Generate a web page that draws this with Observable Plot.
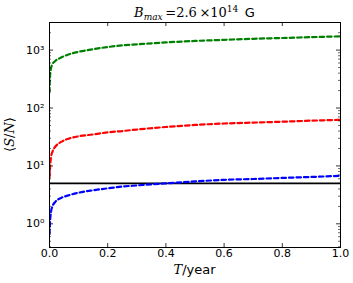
<!DOCTYPE html>
<html><head><meta charset="utf-8">
<script src="https://cdn.jsdelivr.net/npm/d3@7"></script>
<script src="https://cdn.jsdelivr.net/npm/@observablehq/plot@0.6"></script>
<style>body{margin:0;background:#fff}</style>
</head><body><div id="chart"></div>
<script>
// Observation time T (years)
const T = [0, 0.002, 0.005, 0.01, 0.02, 0.04, 0.065, 0.1, 0.15, 0.2, 0.25, 0.3, 0.4, 0.5, 0.6, 0.7, 0.8, 0.9, 1.0];
// <S/N> curves
const snrGreen = [185, 360, 480, 570, 650, 745, 840, 935, 1040, 1130, 1210, 1260, 1360, 1440, 1505, 1570, 1620, 1675, 1730];
const snrRed   = [6.3, 9.4, 14, 17.5, 21.5, 26, 29.5, 32.5, 35, 38, 40, 42.5, 47, 51, 54, 56, 58, 60.5, 62.5];
const snrBlue  = [0.66, 1.1, 1.6, 2.0, 2.4, 2.8, 3.1, 3.45, 3.8, 4.1, 4.4, 4.6, 5.0, 5.4, 5.75, 5.95, 6.2, 6.45, 6.75];
const threshold = 5;

const xTicks = [0, 0.2, 0.4, 0.6, 0.8, 1.0];
const xTickLabels = ["0.0", "0.2", "0.4", "0.6", "0.8", "1.0"];
const yTicks = [1, 10, 100, 1000];
const yTickLabels = ["10\u2070", "10\u00b9", "10\u00b2", "10\u00b3"];
const yMinor = [0.4, 0.5, 0.6, 0.7, 0.8, 0.9, 2, 3, 4, 5, 6, 7, 8, 9, 20, 30, 40, 50, 60, 70, 80, 90, 200, 300, 400, 500, 600, 700, 800, 900, 2000, 3000];

const rows = (ys) => T.map((t, i) => ({T: t, snr: ys[i]}));

const W = 353, H = 283, mL = 49, mR = 13, mT = 22, mB = 36;
const fw = W - mL - mR, fh = H - mT - mB;
const dash = "4.5,3";

const chart = Plot.plot({
  width: W, height: H,
  marginLeft: mL, marginRight: mR, marginTop: mT, marginBottom: mB,
  style: {fontFamily: "DejaVu Sans", fontSize: "11px", background: "white", color: "black", overflow: "visible"},
  x: {domain: [0, 1]},
  y: {type: "log", domain: [0.39, 3000]},
  marks: [
    Plot.ruleY([threshold], {stroke: "black", strokeWidth: 1.6}),
    Plot.line(rows(snrBlue), {x: "T", y: "snr", stroke: "#0000ff", strokeWidth: 2.2, strokeDasharray: dash, curve: "monotone-x", clip: true}),
    Plot.line(rows(snrRed), {x: "T", y: "snr", stroke: "#ff0000", strokeWidth: 2.2, strokeDasharray: dash, curve: "monotone-x", clip: true}),
    Plot.line(rows(snrGreen), {x: "T", y: "snr", stroke: "#008000", strokeWidth: 2.2, strokeDasharray: dash, curve: "monotone-x", clip: true}),
    // inward ticks, all four sides
    Plot.ruleX(xTicks, {x: d => d, insetTop: fh - 4, stroke: "black", strokeWidth: 0.8}),
    Plot.ruleX(xTicks, {x: d => d, insetBottom: fh - 4, stroke: "black", strokeWidth: 0.8}),
    Plot.ruleY(yTicks, {y: d => d, insetRight: fw - 4, stroke: "black", strokeWidth: 0.8}),
    Plot.ruleY(yTicks, {y: d => d, insetLeft: fw - 4, stroke: "black", strokeWidth: 0.8}),
    Plot.ruleY(yMinor, {y: d => d, insetRight: fw - 2, stroke: "black", strokeWidth: 0.6}),
    Plot.ruleY(yMinor, {y: d => d, insetLeft: fw - 2, stroke: "black", strokeWidth: 0.6}),
    Plot.frame({stroke: "black", strokeWidth: 1}),
    Plot.axisX(xTicks, {tickSize: 0, tickPadding: 2, label: null, fontSize: 11, tickFormat: d => xTickLabels[xTicks.indexOf(d)]}),
    Plot.axisY(yTicks, {tickSize: 0, tickPadding: 5, label: null, fontSize: 11, tickFormat: d => yTickLabels[yTicks.indexOf(d)]})
  ]
});
document.getElementById("chart").appendChild(chart);

const svg = d3.select(chart);
// Title
const title = svg.append("text")
  .attr("x", mL + fw / 2).attr("y", 17)
  .attr("text-anchor", "middle")
  .attr("font-family", "DejaVu Serif").attr("font-size", 13).attr("fill", "black");
title.append("tspan").attr("font-style", "italic").text("B");
title.append("tspan").attr("font-style", "italic").attr("font-size", 9).attr("dy", 3).text("max");
title.append("tspan").attr("dy", -3).text("\u2009=2.6\u2009\u00d710");
title.append("tspan").attr("font-size", 9).attr("dy", -5).text("14");
title.append("tspan").attr("dy", 5).attr("font-family", "DejaVu Sans").text("\u2002G");

// X label
const xl = svg.append("text")
  .attr("x", mL + fw / 2).attr("y", 274)
  .attr("text-anchor", "middle")
  .attr("font-family", "DejaVu Sans").attr("font-size", 13).attr("fill", "black");
xl.append("tspan").attr("font-family", "DejaVu Serif").attr("font-style", "italic").text("T");
xl.append("tspan").text("/year");

// Y label
const yl = svg.append("text")
  .attr("transform", "translate(14," + (mT + fh / 2) + ") rotate(-90)")
  .attr("text-anchor", "middle")
  .attr("font-family", "DejaVu Serif").attr("font-size", 13).attr("fill", "black");
yl.append("tspan").text("\u27e8");
yl.append("tspan").attr("font-style", "italic").text("S");
yl.append("tspan").text("/");
yl.append("tspan").attr("font-style", "italic").text("N");
yl.append("tspan").text("\u27e9");
</script>
</body></html>
